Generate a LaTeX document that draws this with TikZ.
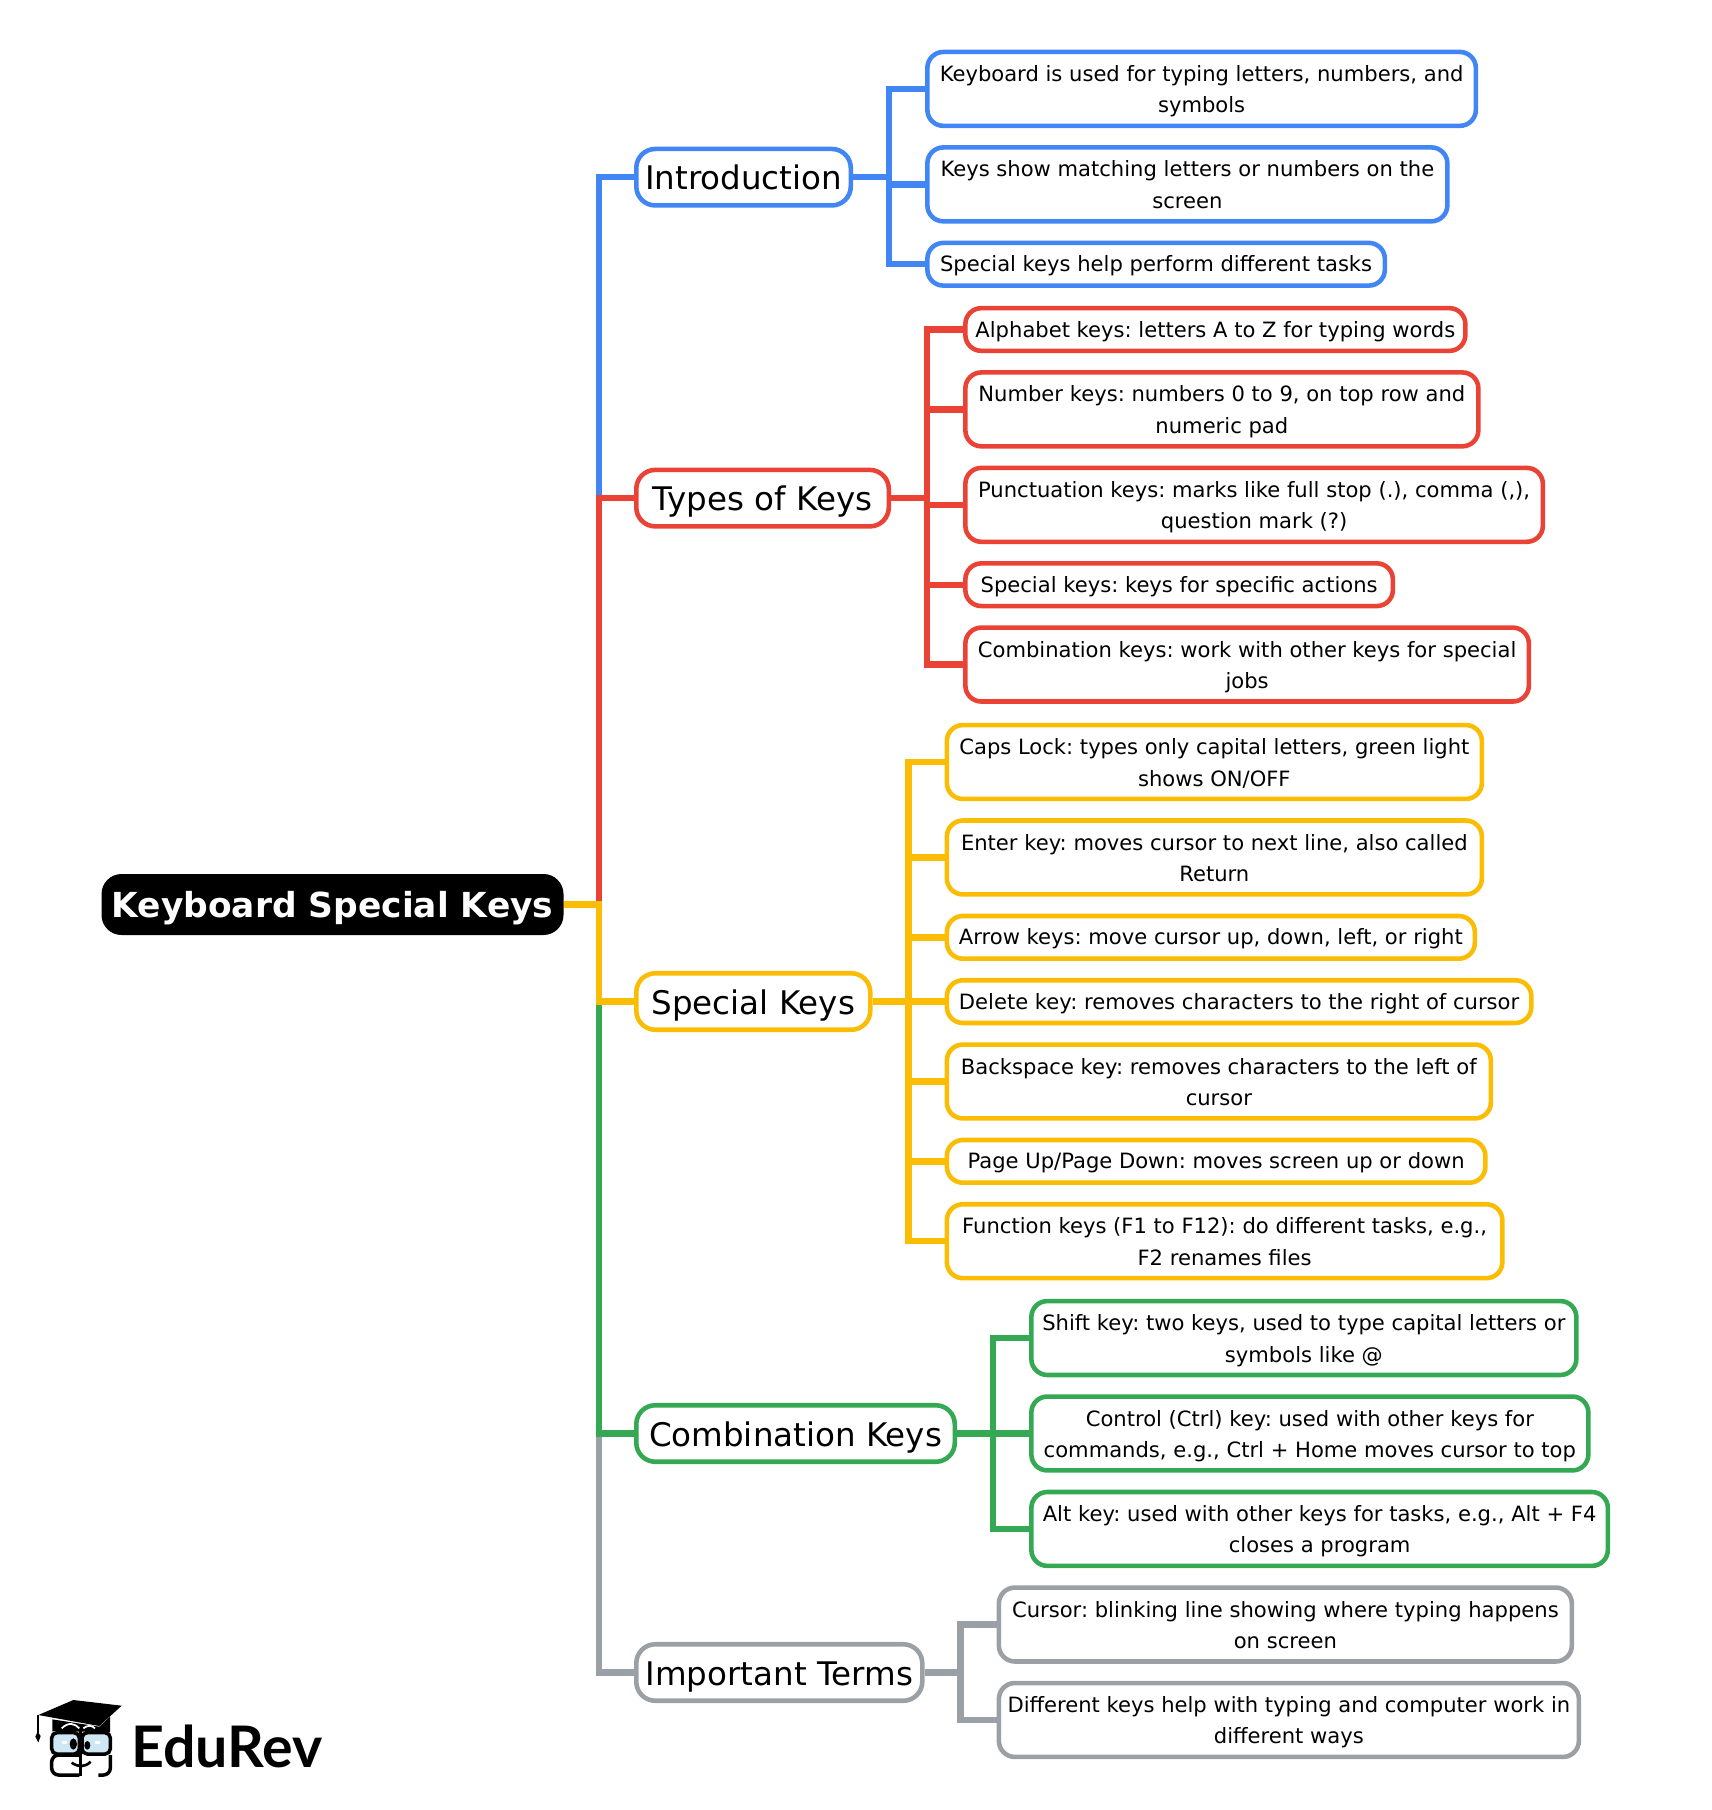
\documentclass[tikz,border=0pt]{standalone}
\usepackage{fontspec}
\setmainfont{DejaVu Sans}
\newfontfamily\logofont{Lato}
\usetikzlibrary{positioning}
\definecolor{cblue}{HTML}{4285F4}
\definecolor{cred}{HTML}{EA4335}
\definecolor{cyellow}{HTML}{FBBC04}
\definecolor{cgreen}{HTML}{34A853}
\definecolor{cgrey}{HTML}{9AA0A6}
\definecolor{cglass}{HTML}{CFE6F5}

\begin{document}
\frenchspacing
\begin{tikzpicture}
\tikzstyle{rootbox} = [rectangle, rounded corners=0.4cm, fill=black, text=white, inner xsep=0pt, minimum width=9.24cm, minimum height=1.22cm, text height=0.55cm, text depth=0.05cm, font=\fontsize{19.6}{22}\selectfont\bfseries]
\tikzstyle{midbox} = [rectangle, rounded corners=0.38cm, line width=2.6pt, fill=white, inner xsep=0pt, minimum height=1.13cm, text height=0.55cm, text depth=0.05cm, anchor=west, font=\fontsize{18.5}{22}\selectfont]
\tikzstyle{leaf} = [rectangle, rounded corners=0.32cm, line width=2.6pt, fill=white, inner xsep=0pt, minimum height=0.854cm, text height=0.385cm, text depth=0.08cm, align=center, font=\fontsize{12}{17.9}\selectfont]
\tikzstyle{two} = [minimum height=1.478cm, text height=1.04cm, text depth=0.08cm]
\tikzstyle{under} = [below=0.34cm of #1.south west, anchor=north west]
\tikzstyle{wire} = [line width=3.6pt]
\useasboundingbox (0,0) rectangle (34.22,-36.2);

\coordinate (Main) at (11.98,-18.09);
\node (Root) [rootbox] at (6.65,-18.09) {Keyboard Special Keys};
\node (Intro) [midbox, draw=cblue, minimum width=4.29cm] at (12.68,-3.544) {Introduction};
\node (Types) [midbox, draw=cred, minimum width=5.05cm] at (12.68,-9.963) {Types of Keys};
\node (Special) [midbox, draw=cyellow, minimum width=4.68cm] at (12.68,-20.03) {Special Keys};
\node (Combo) [midbox, draw=cgreen, minimum width=6.37cm] at (12.68,-28.67) {Combination Keys};
\node (Terms) [midbox, draw=cgrey, minimum width=5.72cm] at (12.68,-33.45) {Important Terms};

% Introduction
\node (I1) [leaf, two, draw=cblue, minimum width=10.97cm, anchor=west] at ([xshift=1.44cm, yshift=1.766cm]Intro.east) {Keyboard is used for typing letters, numbers, and\\symbols};
\node (I2) [leaf, two, draw=cblue, minimum width=10.40cm, under=I1] {Keys show matching letters or numbers on the\\screen};
\node (I3) [leaf, draw=cblue, minimum width=9.15cm, under=I2] {Special keys help perform different tasks};

% Types of Keys
\node (T1) [leaf, draw=cred, minimum width=10.00cm, anchor=west] at ([xshift=1.44cm, yshift=3.373cm]Types.east) {Alphabet keys: letters A to Z for typing words};
\node (T2) [leaf, two, draw=cred, minimum width=10.26cm, under=T1] {Number keys: numbers 0 to 9, on top row and\\numeric pad};
\node (T3) [leaf, two, draw=cred, minimum width=11.55cm, under=T2] {Punctuation keys: marks like full stop (.), comma (,),\\question mark (?)};
\node (T4) [leaf, draw=cred, minimum width=8.55cm, under=T3] {Special keys: keys for specific actions};
\node (T5) [leaf, two, draw=cred, minimum width=11.27cm, under=T4] {Combination keys: work with other keys for special\\jobs};

% Special Keys
\node (S1) [leaf, two, draw=cyellow, minimum width=10.70cm, anchor=west] at ([xshift=1.44cm, yshift=4.79cm]Special.east) {Caps Lock: types only capital letters, green light\\shows ON/OFF};
\node (S2) [leaf, two, draw=cyellow, minimum width=10.70cm, under=S1] {Enter key: moves cursor to next line, also called\\Return};
\node (S3) [leaf, draw=cyellow, minimum width=10.56cm, under=S2] {Arrow keys: move cursor up, down, left, or right};
\node (S4) [leaf, draw=cyellow, minimum width=11.69cm, under=S3] {Delete key: removes characters to the right of cursor};
\node (S5) [leaf, two, draw=cyellow, minimum width=10.88cm, under=S4] {Backspace key: removes characters to the left of\\cursor};
\node (S6) [leaf, draw=cyellow, minimum width=10.77cm, under=S5] {Page Up/Page Down: moves screen up or down};
\node (S7) [leaf, two, draw=cyellow, minimum width=11.11cm, under=S6] {Function keys (F1 to F12): do different tasks, e.g.,\\F2 renames files};

% Combination Keys
\node (C1) [leaf, two, draw=cgreen, minimum width=10.90cm, anchor=west] at ([xshift=1.44cm, yshift=1.91cm]Combo.east) {Shift key: two keys, used to type capital letters or\\symbols like @};
\node (C2) [leaf, two, draw=cgreen, minimum width=11.14cm, under=C1] {Control (Ctrl) key: used with other keys for\\commands, e.g., Ctrl + Home moves cursor to top};
\node (C3) [leaf, two, draw=cgreen, minimum width=11.53cm, under=C2] {Alt key: used with other keys for tasks, e.g., Alt + F4\\closes a program};

% Important Terms
\node (W1) [leaf, two, draw=cgrey, minimum width=11.46cm, anchor=west] at ([xshift=1.44cm, yshift=0.96cm]Terms.east) {Cursor: blinking line showing where typing happens\\on screen};
\node (W2) [leaf, two, draw=cgrey, minimum width=11.60cm, under=W1] {Different keys help with typing and computer work in\\different ways};

\coordinate (IntroBus) at ([xshift=0.72cm]Intro.east);
\coordinate (TypesBus) at ([xshift=0.72cm]Types.east);
\coordinate (SpecialBus) at ([xshift=0.72cm]Special.east);
\coordinate (ComboBus) at ([xshift=0.72cm]Combo.east);
\coordinate (TermsBus) at ([xshift=0.72cm]Terms.east);

\draw[wire, cgrey] (Root) -- (Main) |- (Terms);
\draw[wire, cgreen] (Root) -- (Main) |- (Combo);
\draw[wire, cblue] (Root) -- (Main) |- (Intro);
\draw[wire, cred] (Root) -- (Main) |- (Types);
\draw[wire, cyellow] (Root) -- (Main) |- (Special);

\draw[wire, cblue] (Intro) -- (IntroBus) |- (I1);
\draw[wire, cblue] (IntroBus) |- (I2);
\draw[wire, cblue] (IntroBus) |- (I3);
\draw[wire, cred] (Types) -- (TypesBus) |- (T1);
\draw[wire, cred] (TypesBus) |- (T2);
\draw[wire, cred] (TypesBus) |- (T3);
\draw[wire, cred] (TypesBus) |- (T4);
\draw[wire, cred] (TypesBus) |- (T5);
\draw[wire, cyellow] (Special) -- (SpecialBus) |- (S1);
\draw[wire, cyellow] (SpecialBus) |- (S2);
\draw[wire, cyellow] (SpecialBus) |- (S3);
\draw[wire, cyellow] (SpecialBus) |- (S4);
\draw[wire, cyellow] (SpecialBus) |- (S5);
\draw[wire, cyellow] (SpecialBus) |- (S6);
\draw[wire, cyellow] (SpecialBus) |- (S7);
\draw[wire, cgreen] (Combo) -- (ComboBus) |- (C1);
\draw[wire, cgreen] (ComboBus) |- (C2);
\draw[wire, cgreen] (ComboBus) |- (C3);
\draw[wire, cgrey] (Terms) -- (TermsBus) |- (W1);
\draw[wire, cgrey] (TermsBus) |- (W2);

% logo
\begin{scope}[shift={(0,-33.2)}, x=0.006667cm, y=-0.006667cm]
\fill (115,165) -- (220,120) -- (365,137) -- (298,198) -- cycle;
\fill (157,178) -- (298,200) -- (330,170) -- (330,216) -- (157,214) -- cycle;
\draw[white, line width=1pt] (185,205) .. controls (205,185) and (225,190) .. (238,205);
\draw[white, line width=1pt] (250,205) .. controls (262,195) and (275,195) .. (285,205);
\draw[line width=1pt] (115,165) -- (115,220);
\fill (113,215) -- (106,230) -- (115,247) -- (122,228) -- cycle;
\draw[line width=2pt, fill=cglass, rounded corners=3pt] (155,218) rectangle (238,282);
\draw[line width=2pt, fill=cglass, rounded corners=3pt] (246,218) rectangle (331,282);
\draw[line width=2pt, rounded corners=4pt] (238,345) -- (155,345) -- (155,285) -- (238,285);
\draw[line width=2pt, rounded corners=4pt] (295,345) -- (331,345) -- (331,285);
\draw[line width=2pt] (241,212) -- (241,347);
\fill (220,252) ellipse [x radius=11, y radius=17];
\fill (262,256) ellipse [x radius=9, y radius=13];
\fill[white] (187,244) rectangle (201,252);
\fill[white] (285,244) rectangle (300,252);
\draw[line width=1.5pt] (215,308) .. controls (235,322) and (255,322) .. (272,305);
\end{scope}
\node (Logo) [anchor=west, inner sep=0pt, font=\fontsize{32.6}{36}\logofont\bfseries] at (2.62,-34.92) {EduRev};
\end{tikzpicture}
\end{document}
